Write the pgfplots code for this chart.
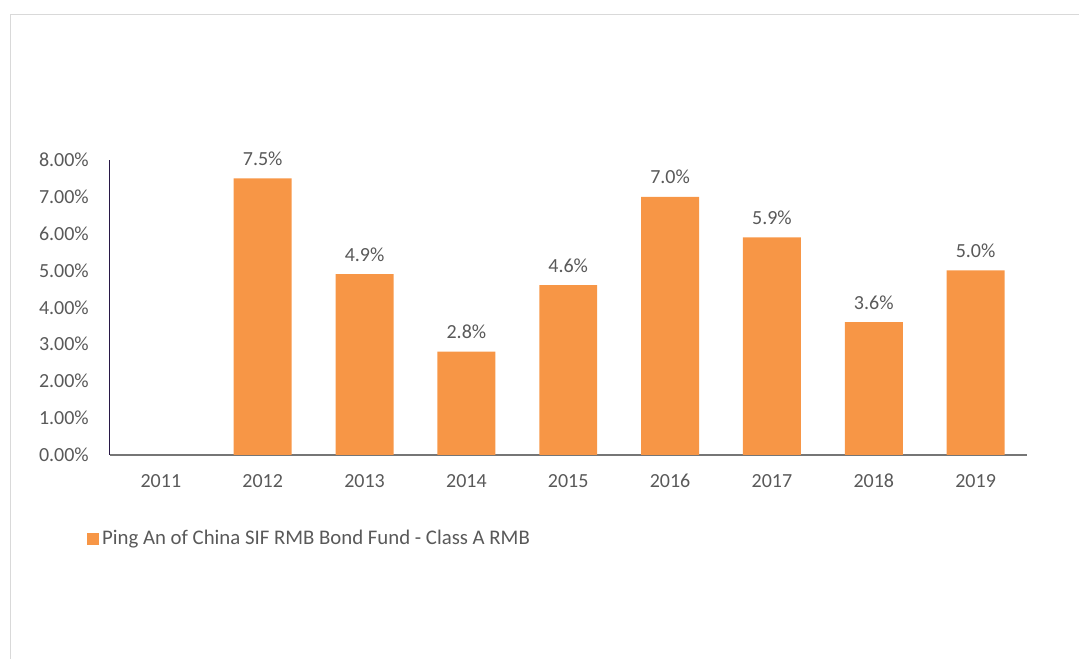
\documentclass[border=0pt]{standalone}
\usepackage{pgfplots}
\pgfplotsset{compat=1.18}
\usepackage{fontspec}
\setmainfont{Carlito}
\definecolor{barorange}{RGB}{247,150,70}
\definecolor{txtgray}{RGB}{89,89,89}
\definecolor{framegray}{RGB}{217,217,217}
\definecolor{xaxisgray}{RGB}{118,118,118}
\definecolor{yaxisdark}{RGB}{40,24,70}
\begin{document}
\fontsize{20bp}{24bp}\selectfont
\begin{tikzpicture}
\path (0,0) rectangle (1079bp,659bp);
\draw[framegray, line width=1bp] (10.5bp,0) -- (10.5bp,644.5bp) -- (1079bp,644.5bp);
\begin{axis}[
    at={(110bp,204bp)}, anchor=south west,
    width=917bp, height=295bp, scale only axis,
    xmin=-0.5, xmax=8.5, ymin=0, ymax=8,
    ybar, bar width=58bp,
    xtick={0,1,2,3,4,5,6,7,8},
    xticklabels={2011,2012,2013,2014,2015,2016,2017,2018,2019},
    ytick={0,1,2,3,4,5,6,7,8},
    yticklabel={\pgfmathprintnumber[fixed,fixed zerofill,precision=2]{\tick}\%},
    /pgf/number format/assume math mode=true,
    axis x line=bottom, axis y line=left,
    x axis line style={draw=xaxisgray, line width=1.5bp, -},
    y axis line style={draw=yaxisdark, line width=1bp, -},
    major tick length=0pt,
    tick label style={text=txtgray, inner sep=0pt},
    yticklabel style={anchor=east, xshift=-21bp},
    xticklabel style={anchor=base, yshift=-33bp},
    nodes near coords={\pgfmathprintnumber[fixed,fixed zerofill,precision=1]{\pgfplotspointmeta}\%},
    nodes near coords style={text=txtgray, anchor=base, inner sep=0pt, yshift=13bp},
    legend style={at={(axis description cs:-0.0251,-0.2847)}, anchor=west,
        draw=none, fill=none, inner sep=0pt, text=txtgray,
        font=\fontsize{20.8bp}{24bp}\selectfont,
        nodes={inner sep=0pt, inner xsep=3bp}},
    legend image code/.code={\fill[barorange] (0bp,-6bp) rectangle (12bp,6bp);},
    clip=false,
]
\addplot[fill=barorange, draw=none] coordinates {
    (1,7.5) (2,4.9) (3,2.8) (4,4.6) (5,7.0) (6,5.9) (7,3.6) (8,5.0)
};
\addlegendentry{Ping An of China SIF RMB Bond Fund - Class A RMB}
\end{axis}
\end{tikzpicture}
\end{document}
